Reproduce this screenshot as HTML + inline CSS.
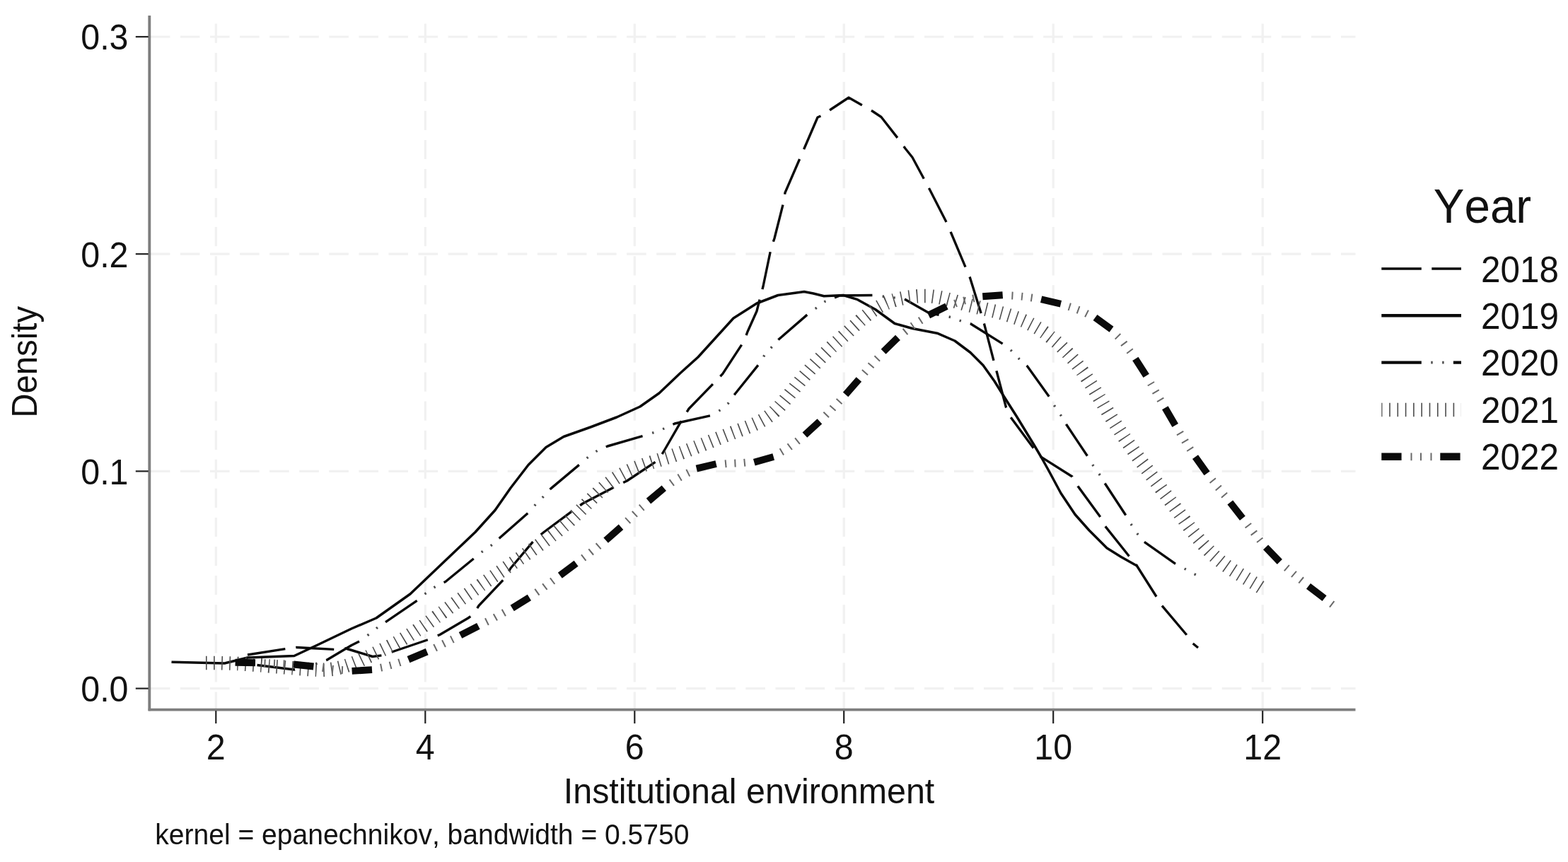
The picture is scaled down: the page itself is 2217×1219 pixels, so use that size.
<!DOCTYPE html>
<html lang="en">
<head>
<meta charset="utf-8">
<title>Kernel density of institutional environment by year</title>
<style>
html,body{margin:0;padding:0;background:#fff;}
body{width:2217px;height:1219px;overflow:hidden;}
svg{display:block;}
text{font-family:"Liberation Sans",Arial,Helvetica,sans-serif;fill:#111;font-kerning:none;}
.g{stroke:#f1f1f1;stroke-width:3.2;stroke-dasharray:27.6 14.48;fill:none;}
.c{fill:none;stroke:#0a0a0a;stroke-linejoin:round;}
</style>
</head>
<body>
<svg width="2217" height="1219" viewBox="0 0 2217 1219">
<rect x="0" y="0" width="2217" height="1219" fill="#fff"/>
<g>
<g class="g">
<line x1="212.8" y1="973.6" x2="1916.5" y2="973.6"/>
<line x1="212.8" y1="666.4" x2="1916.5" y2="666.4"/>
<line x1="212.8" y1="359.2" x2="1916.5" y2="359.2"/>
<line x1="212.8" y1="52.0" x2="1916.5" y2="52.0"/>
<line x1="305.3" y1="1003.6" x2="305.3" y2="22.0" stroke-dasharray="27.2 13.88" stroke-dashoffset="2"/>
<line x1="601.3" y1="1003.6" x2="601.3" y2="22.0" stroke-dasharray="27.2 13.88" stroke-dashoffset="2"/>
<line x1="897.3" y1="1003.6" x2="897.3" y2="22.0" stroke-dasharray="27.2 13.88" stroke-dashoffset="2"/>
<line x1="1193.2" y1="1003.6" x2="1193.2" y2="22.0" stroke-dasharray="27.2 13.88" stroke-dashoffset="2"/>
<line x1="1489.2" y1="1003.6" x2="1489.2" y2="22.0" stroke-dasharray="27.2 13.88" stroke-dashoffset="2"/>
<line x1="1785.2" y1="1003.6" x2="1785.2" y2="22.0" stroke-dasharray="27.2 13.88" stroke-dashoffset="2"/>
</g>
<g class="c">
<polyline points="350.0,926.0 404.0,917.5 419.0,915.5 474.0,918.5 489.0,917.0 526.8,928.5 542.0,926.5 557.0,921.0 607.0,904.0 622.0,897.5 662.0,874.0 669.0,869.0 677.0,856.5 714.0,817.5 722.0,803.5 756.5,762.5 769.0,752.5 812.0,720.5 824.0,712.0 872.0,687.0 886.5,680.0 931.5,650.0 939.5,636.5 965.0,592.5 974.0,578.0 1012.0,539.0 1021.8,528.6 1051.9,482.5 1057.0,469.0 1070.0,440.0 1075.0,420.0 1079.0,405.0 1090.0,352.0 1095.0,337.0 1107.5,287.5 1110.0,272.5 1131.0,224.0 1137.5,209.0 1156.0,166.0 1162.5,163.0 1175.0,154.5 1200.0,138.0 1221.0,150.0 1234.0,157.5 1246.0,165.5 1271.0,197.5 1280.0,210.0 1290.0,222.5 1307.5,255.0 1315.0,269.0 1339.0,316.0 1345.0,330.0 1366.0,380.0 1371.4,392.5 1387.3,443.6 1391.5,457.8 1404.9,509.7 1409.0,524.7 1422.4,575.8 1429.0,590.0 1460.0,632.0 1470.0,645.0 1516.0,674.0 1524.0,687.5 1555.0,730.0 1562.5,744.0 1596.0,786.0 1606.7,799.0 1635.2,844.0 1642.5,856.0 1677.5,897.5 1686.0,909.5 1694.0,916.0" stroke-width="3.4" stroke-dasharray="54 15.1" stroke-dashoffset="0"/>
<polyline points="242.5,936.2 317.5,938.0 350.0,930.0 416.0,927.5 449.0,912.0 497.0,889.0 532.0,874.0 580.0,840.0 622.0,800.0 672.0,752.5 700.0,721.5 722.0,690.0 747.0,657.5 772.0,632.5 797.0,617.5 835.0,604.0 872.0,590.0 905.0,575.0 932.0,556.0 962.0,527.5 987.0,505.0 1012.0,477.5 1037.0,450.0 1070.0,429.0 1100.0,417.5 1137.0,412.5 1150.0,415.0 1165.0,418.7 1192.5,417.5 1212.5,423.7 1237.5,437.5 1265.0,457.5 1290.0,464.5 1325.0,471.2 1350.0,482.0 1372.0,498.5 1390.0,516.5 1406.0,539.0 1420.0,561.5 1437.5,589.0 1462.5,630.0 1472.5,647.0 1482.5,665.0 1500.0,697.5 1520.0,727.5 1540.0,750.0 1565.0,775.0 1585.0,787.5 1605.0,798.7 1607.5,800.0" stroke-width="3.5"/>
<polyline points="363.5,940.5 416.0,947.0 440.0,941.0 461.8,933.5 497.0,912.5 510.0,906.0 522.0,896.8 533.5,887.6 546.0,879.2 591.0,848.4 602.0,839.0 615.0,830.0 630.0,822.5 671.0,789.0 682.0,780.0 695.0,771.0 706.7,760.5 747.7,724.5 757.7,712.8 767.8,702.8 778.6,691.1 820.5,656.0 832.0,646.0 845.0,637.0 859.0,631.0 911.0,616.0 926.0,611.0 939.0,606.0 954.0,599.0 1006.0,587.5 1019.0,579.5 1030.0,570.0 1039.3,557.0 1073.6,514.3 1081.0,502.0 1091.0,491.0 1101.0,480.0 1142.5,444.0 1155.0,435.0 1167.0,426.0 1187.5,418.0 1235.0,417.5 1278.5,422.7 1313.7,442.7 1344.6,448.6 1358.0,453.6 1372.2,457.8 1419.1,487.1 1430.0,496.0 1441.0,507.5 1452.6,518.0 1484.4,562.4 1491.0,574.0 1500.0,587.5 1507.5,600.0 1537.5,645.0 1545.0,657.5 1554.0,670.0 1562.5,684.0 1591.0,727.5 1599.0,741.0 1607.5,754.0 1616.8,765.5 1662.0,797.3 1674.5,804.0 1687.9,811.5 1692.0,813.5" stroke-width="3.4" stroke-dasharray="54 46" stroke-dashoffset="0"/>
<polyline points="363.5,940.5 416.0,947.0 440.0,941.0 461.8,933.5 497.0,912.5 510.0,906.0 522.0,896.8 533.5,887.6 546.0,879.2 591.0,848.4 602.0,839.0 615.0,830.0 630.0,822.5 671.0,789.0 682.0,780.0 695.0,771.0 706.7,760.5 747.7,724.5 757.7,712.8 767.8,702.8 778.6,691.1 820.5,656.0 832.0,646.0 845.0,637.0 859.0,631.0 911.0,616.0 926.0,611.0 939.0,606.0 954.0,599.0 1006.0,587.5 1019.0,579.5 1030.0,570.0 1039.3,557.0 1073.6,514.3 1081.0,502.0 1091.0,491.0 1101.0,480.0 1142.5,444.0 1155.0,435.0 1167.0,426.0 1187.5,418.0 1235.0,417.5 1278.5,422.7 1313.7,442.7 1344.6,448.6 1358.0,453.6 1372.2,457.8 1419.1,487.1 1430.0,496.0 1441.0,507.5 1452.6,518.0 1484.4,562.4 1491.0,574.0 1500.0,587.5 1507.5,600.0 1537.5,645.0 1545.0,657.5 1554.0,670.0 1562.5,684.0 1591.0,727.5 1599.0,741.0 1607.5,754.0 1616.8,765.5 1662.0,797.3 1674.5,804.0 1687.9,811.5 1692.0,813.5" stroke-width="3.4" stroke-dasharray="0 68.3 2.4 13.5 2.4 13.4" stroke-dashoffset="0" stroke="#4a4a4a"/>
<polyline points="291.0,937.6 294.0,937.6 297.0,937.5 300.0,937.5 303.0,937.5 306.0,937.5 309.0,937.6 312.0,937.6 315.0,937.7 318.0,937.8 321.0,937.9 324.0,938.0 327.0,938.1 330.0,938.2 333.0,938.4 336.0,938.5 339.0,938.7 342.0,938.9 345.0,939.1 347.9,939.3 350.9,939.5 353.9,939.7 356.9,939.9 359.9,940.1 362.9,940.4 365.9,940.6 368.9,940.8 371.9,941.1 374.9,941.3 377.9,941.6 380.9,941.9 383.9,942.1 386.9,942.4 389.9,942.7 392.9,942.9 395.9,943.2 398.8,943.4 401.8,943.7 404.8,944.0 407.8,944.2 410.8,944.5 413.8,944.7 416.8,945.0 419.8,945.2 422.8,945.5 425.8,945.7 428.7,946.0 431.7,946.2 434.7,946.4 437.7,946.6 440.7,946.8 443.7,947.0 446.7,947.1 449.6,947.3 452.6,947.3 455.6,947.3 458.5,947.2 461.5,947.1 464.4,946.9 467.4,946.6 470.3,946.2 473.2,945.7 476.1,945.2 479.0,944.5 481.9,943.8 484.7,943.0 487.6,942.2 490.4,941.3 493.3,940.3 496.1,939.3 498.9,938.2 501.7,937.1 504.4,935.9 507.2,934.7 510.0,933.5 512.7,932.2 515.5,931.0 518.2,929.7 521.0,928.4 523.7,927.1 526.4,925.8 529.2,924.5 531.9,923.2 534.6,921.9 537.3,920.6 540.0,919.3 542.7,918.0 545.4,916.7 548.1,915.4 550.7,914.0 553.4,912.7 556.0,911.3 558.7,909.9 561.3,908.5 563.9,907.0 566.5,905.6 569.1,904.1 571.6,902.6 574.2,901.0 576.8,899.5 579.3,897.9 581.8,896.3 584.3,894.7 586.8,893.1 589.3,891.4 591.8,889.8 594.3,888.1 596.8,886.4 599.3,884.7 601.7,883.0 604.2,881.3 606.6,879.6 609.1,877.8 611.5,876.1 614.0,874.4 616.4,872.6 618.9,870.9 621.3,869.1 623.7,867.3 626.2,865.6 628.6,863.8 631.0,862.0 633.5,860.3 635.9,858.5 638.4,856.7 640.8,855.0 643.3,853.2 645.7,851.5 648.1,849.7 650.6,848.0 653.1,846.2 655.5,844.5 658.0,842.8 660.4,841.0 662.9,839.3 665.3,837.6 667.8,835.8 670.3,834.1 672.7,832.4 675.2,830.7 677.7,829.0 680.1,827.2 682.6,825.5 685.1,823.8 687.5,822.1 690.0,820.4 692.5,818.7 694.9,817.0 697.4,815.3 699.9,813.6 702.4,811.9 704.8,810.2 707.3,808.5 709.8,806.8 712.3,805.1 714.7,803.4 717.2,801.7 719.7,800.0 722.2,798.3 724.6,796.6 727.1,794.9 729.6,793.3 732.0,791.6 734.5,789.9 737.0,788.2 739.4,786.5 741.9,784.8 744.4,783.1 746.8,781.4 749.3,779.7 751.8,778.0 754.2,776.3 756.6,774.6 759.1,772.9 761.5,771.2 764.0,769.4 766.4,767.7 768.8,766.0 771.2,764.2 773.6,762.4 776.0,760.6 778.4,758.8 780.7,757.0 783.1,755.2 785.4,753.3 787.8,751.5 790.1,749.6 792.4,747.7 794.7,745.8 797.0,743.8 799.3,741.9 801.5,739.9 803.8,737.9 806.0,735.9 808.2,733.8 810.4,731.7 812.6,729.6 814.8,727.5 816.9,725.4 819.1,723.2 821.2,721.1 823.4,718.9 825.5,716.7 827.6,714.6 829.7,712.4 831.9,710.2 834.0,708.0 836.1,705.9 838.3,703.7 840.4,701.6 842.6,699.5 844.7,697.4 846.9,695.3 849.1,693.3 851.4,691.3 853.6,689.3 855.8,687.4 858.1,685.5 860.4,683.6 862.8,681.8 865.1,680.0 867.5,678.3 869.9,676.6 872.4,675.0 874.9,673.4 877.4,671.9 880.0,670.5 882.6,669.1 885.2,667.8 887.9,666.5 890.5,665.3 893.2,664.1 896.0,662.9 898.7,661.8 901.5,660.7 904.3,659.6 907.1,658.6 910.0,657.6 912.8,656.6 915.6,655.7 918.5,654.8 921.4,653.8 924.3,652.9 927.1,652.0 930.0,651.1 932.9,650.2 935.8,649.3 938.7,648.4 941.6,647.5 944.5,646.6 947.3,645.7 950.2,644.8 953.1,643.8 955.9,642.8 958.7,641.9 961.6,640.9 964.4,639.9 967.2,638.8 970.0,637.8 972.8,636.8 975.6,635.7 978.4,634.7 981.2,633.6 984.0,632.5 986.7,631.4 989.5,630.3 992.3,629.3 995.1,628.2 997.8,627.1 1000.6,625.9 1003.4,624.8 1006.1,623.7 1008.9,622.6 1011.7,621.5 1014.4,620.4 1017.2,619.3 1020.0,618.2 1022.8,617.1 1025.6,616.0 1028.4,614.9 1031.2,613.8 1034.0,612.7 1036.8,611.6 1039.6,610.6 1042.4,609.5 1045.2,608.5 1048.1,607.4 1050.9,606.3 1053.7,605.3 1056.5,604.2 1059.3,603.1 1062.1,601.9 1064.8,600.7 1067.5,599.5 1070.2,598.3 1072.9,597.0 1075.5,595.6 1078.1,594.2 1080.6,592.7 1083.1,591.1 1085.5,589.5 1087.9,587.8 1090.2,586.0 1092.5,584.1 1094.7,582.2 1096.8,580.1 1098.9,578.0 1101.0,575.9 1103.0,573.7 1105.0,571.4 1107.0,569.1 1108.9,566.8 1110.8,564.5 1112.7,562.1 1114.6,559.7 1116.5,557.3 1118.4,555.0 1120.3,552.6 1122.2,550.2 1124.1,547.8 1125.9,545.5 1127.8,543.1 1129.8,540.8 1131.7,538.5 1133.6,536.2 1135.5,533.9 1137.4,531.6 1139.4,529.3 1141.3,527.0 1143.3,524.8 1145.3,522.5 1147.2,520.3 1149.2,518.0 1151.2,515.8 1153.2,513.6 1155.3,511.4 1157.3,509.3 1159.3,507.1 1161.4,504.9 1163.5,502.8 1165.5,500.7 1167.6,498.6 1169.8,496.4 1171.9,494.4 1174.0,492.3 1176.2,490.2 1178.4,488.2 1180.6,486.1 1182.8,484.1 1185.0,482.1 1187.2,480.1 1189.5,478.1 1191.7,476.0 1193.9,474.0 1196.2,471.9 1198.4,469.9 1200.6,467.8 1202.8,465.7 1205.1,463.6 1207.3,461.5 1209.5,459.5 1211.8,457.4 1214.1,455.4 1216.3,453.3 1218.6,451.3 1220.9,449.4 1223.2,447.5 1225.6,445.6 1227.9,443.7 1230.3,441.9 1232.7,440.2 1235.2,438.5 1237.6,436.9 1240.1,435.3 1242.7,433.8 1245.2,432.4 1247.8,431.1 1250.5,429.8 1253.1,428.6 1255.8,427.5 1258.6,426.5 1261.4,425.5 1264.2,424.7 1267.0,423.8 1269.9,423.1 1272.8,422.4 1275.7,421.8 1278.7,421.2 1281.7,420.7 1284.7,420.2 1287.7,419.8 1290.7,419.4 1293.7,419.2 1296.8,418.9 1299.8,418.7 1302.9,418.6 1305.9,418.6 1308.9,418.6 1311.9,418.7 1315.0,418.9 1318.0,419.1 1320.9,419.5 1323.9,419.8 1326.8,420.3 1329.8,420.9 1332.7,421.5 1335.5,422.1 1338.4,422.8 1341.3,423.6 1344.1,424.3 1347.0,425.1 1349.8,425.9 1352.7,426.8 1355.5,427.6 1358.4,428.4 1361.2,429.2 1364.1,430.1 1366.9,430.8 1369.8,431.6 1372.7,432.3 1375.5,433.0 1378.4,433.7 1381.3,434.4 1384.2,435.1 1387.1,435.8 1390.0,436.4 1392.9,437.1 1395.8,437.8 1398.7,438.4 1401.6,439.1 1404.5,439.8 1407.4,440.5 1410.3,441.3 1413.2,442.0 1416.1,442.8 1419.0,443.6 1421.9,444.5 1424.8,445.3 1427.6,446.2 1430.5,447.2 1433.3,448.1 1436.1,449.2 1439.0,450.2 1441.8,451.3 1444.5,452.4 1447.3,453.6 1450.0,454.8 1452.7,456.1 1455.4,457.4 1458.1,458.8 1460.7,460.2 1463.3,461.6 1465.9,463.1 1468.5,464.6 1471.0,466.2 1473.5,467.9 1475.9,469.5 1478.4,471.3 1480.8,473.0 1483.2,474.8 1485.5,476.7 1487.9,478.5 1490.1,480.5 1492.4,482.4 1494.7,484.4 1496.9,486.4 1499.1,488.5 1501.2,490.5 1503.3,492.7 1505.4,494.8 1507.5,497.0 1509.6,499.2 1511.6,501.4 1513.6,503.7 1515.5,505.9 1517.5,508.2 1519.4,510.6 1521.3,512.9 1523.1,515.3 1524.9,517.7 1526.7,520.1 1528.5,522.5 1530.3,524.9 1532.0,527.4 1533.7,529.8 1535.4,532.3 1537.0,534.8 1538.7,537.3 1540.3,539.8 1541.9,542.4 1543.5,544.9 1545.1,547.4 1546.7,550.0 1548.2,552.5 1549.8,555.1 1551.3,557.7 1552.9,560.2 1554.4,562.8 1556.0,565.4 1557.5,567.9 1559.1,570.5 1560.6,573.1 1562.1,575.7 1563.7,578.2 1565.3,580.8 1566.8,583.3 1568.4,585.9 1570.0,588.4 1571.6,591.0 1573.2,593.5 1574.8,596.0 1576.4,598.5 1578.0,601.0 1579.7,603.5 1581.3,606.0 1583.0,608.5 1584.6,611.0 1586.3,613.5 1588.0,616.0 1589.6,618.5 1591.3,621.0 1593.0,623.4 1594.7,625.9 1596.4,628.4 1598.1,630.8 1599.9,633.3 1601.6,635.7 1603.3,638.2 1605.0,640.6 1606.8,643.1 1608.5,645.5 1610.2,647.9 1612.0,650.4 1613.7,652.8 1615.5,655.2 1617.3,657.6 1619.0,660.1 1620.8,662.5 1622.6,664.9 1624.3,667.3 1626.1,669.7 1627.9,672.2 1629.7,674.6 1631.4,677.0 1633.2,679.4 1635.0,681.8 1636.8,684.2 1638.6,686.6 1640.4,689.0 1642.1,691.5 1643.9,693.9 1645.7,696.3 1647.5,698.7 1649.3,701.1 1651.1,703.5 1652.9,705.9 1654.6,708.3 1656.4,710.7 1658.2,713.2 1660.0,715.6 1661.8,718.0 1663.5,720.4 1665.3,722.8 1667.1,725.2 1668.9,727.7 1670.6,730.1 1672.4,732.5 1674.2,734.9 1675.9,737.4 1677.7,739.8 1679.5,742.2 1681.2,744.6 1683.0,747.0 1684.8,749.4 1686.6,751.8 1688.5,754.2 1690.3,756.5 1692.1,758.9 1694.0,761.2 1695.9,763.5 1697.8,765.8 1699.7,768.1 1701.6,770.3 1703.6,772.5 1705.6,774.7 1707.6,776.9 1709.7,779.1 1711.8,781.2 1713.9,783.3 1716.0,785.3 1718.2,787.3 1720.4,789.3 1722.7,791.3 1725.0,793.2 1727.3,795.1 1729.7,796.9 1732.1,798.7 1734.6,800.5 1737.0,802.2 1739.5,803.9 1742.1,805.6 1744.6,807.2 1747.2,808.8 1749.8,810.4 1752.4,812.0 1755.0,813.6 1757.6,815.2 1760.2,816.7 1762.8,818.3 1765.4,819.9 1767.9,821.4 1770.5,823.0 1773.0,824.5 1775.6,826.1 1778.1,827.7 1780.5,829.3 1783.0,830.9 1785.3,832.5 1785.4,832.5" stroke-width="19.5" stroke-dasharray="1.6 9.5" stroke="#4c4c4c"/>
<path d="M332.6,936.7 L361.0,937.3 M415.0,939.5 L443.4,942.5 M497.6,948.9 L526.0,947.1 M577.5,932.6 L603.7,921.6 M651.0,898.3 L676.4,885.3 M724.2,860.0 L748.4,845.0 M791.8,813.7 L814.6,796.7 M856.6,764.1 L878.0,745.3 M917.0,708.6 L938.8,690.2 M984.8,662.6 L1012.6,656.0 M1066.3,653.8 L1093.7,646.0 M1137.9,615.2 L1158.9,595.8 M1195.6,558.0 L1214.4,536.6 M1249.1,497.2 L1269.5,477.4 M1312.9,445.7 L1338.5,433.1 M1389.3,419.2 L1417.7,417.2 M1472.1,423.2 L1499.9,429.8 M1548.5,448.9 L1571.5,465.7 M1605.3,507.4 L1620.7,531.4 M1647.3,576.8 L1661.7,601.4 M1690.0,646.1 L1706.6,669.3 M1739.3,710.5 L1756.9,732.9 M1789.6,773.9 L1809.4,794.5 M1850.0,828.8 L1872.6,846.2" stroke-width="9.9"/>
<path d="M373.5,937.6 L375.5,937.7 M387.0,938.0 L389.0,938.1 M400.5,938.7 L402.5,938.8 M455.9,944.4 L457.8,944.7 M469.4,946.1 L471.4,946.3 M482.9,947.5 L484.9,947.6 M538.1,944.3 L540.1,943.9 M551.1,941.1 L553.0,940.6 M563.9,937.2 L565.8,936.6 M614.7,916.3 L616.5,915.4 M626.6,910.6 L628.4,909.7 M638.4,904.7 L640.2,903.8 M687.5,879.6 L689.3,878.7 M699.5,873.4 L701.3,872.4 M711.4,867.0 L713.2,866.0 M758.5,837.9 L760.2,836.7 M769.5,830.2 L771.1,829.0 M780.3,822.3 L781.9,821.1 M824.4,789.2 L826.0,788.0 M834.9,781.2 L836.5,779.9 M845.4,773.0 L846.9,771.7 M887.0,736.7 L888.4,735.4 M896.7,727.6 L898.2,726.2 M906.5,718.4 L908.0,717.1 M949.0,683.1 L950.6,681.9 M960.2,675.7 L961.9,674.7 M971.9,669.2 L973.7,668.3 M1025.1,655.8 L1027.1,655.6 M1038.4,655.1 L1040.4,655.0 M1051.8,654.3 L1053.8,654.1 M1104.5,639.4 L1106.2,638.4 M1115.9,632.3 L1117.5,631.1 M1126.7,624.3 L1128.3,623.0 M1167.5,587.2 L1168.9,585.8 M1176.8,577.9 L1178.1,576.4 M1185.9,568.3 L1187.2,566.9 M1222.3,527.4 L1223.6,525.9 M1230.9,517.5 L1232.2,516.0 M1239.6,507.7 L1241.0,506.3 M1279.2,469.6 L1280.8,468.3 M1289.8,461.3 L1291.4,460.2 M1300.8,453.7 L1302.5,452.6 M1350.1,429.3 L1352.0,428.6 M1362.6,425.3 L1364.6,424.8 M1375.4,422.2 L1377.4,421.8 M1430.4,418.0 L1432.4,418.1 M1444.1,419.1 L1446.0,419.3 M1457.6,420.9 L1459.6,421.2 M1511.3,433.5 L1513.2,434.1 M1523.6,437.9 L1525.5,438.6 M1535.6,443.0 L1537.4,443.9 M1579.8,475.1 L1581.2,476.5 M1588.7,485.1 L1589.9,486.7 M1596.9,495.7 L1598.1,497.3 M1626.9,541.9 L1627.9,543.6 M1633.6,553.2 L1634.6,554.9 M1640.2,564.6 L1641.2,566.3 M1668.1,611.8 L1669.1,613.5 M1675.1,623.1 L1676.1,624.8 M1682.2,634.2 L1683.3,635.9 M1714.1,678.8 L1715.4,680.4 M1722.2,689.2 L1723.5,690.7 M1730.4,699.5 L1731.7,701.0 M1764.3,742.5 L1765.5,744.1 M1772.4,752.8 L1773.6,754.4 M1780.7,763.0 L1781.9,764.5 M1818.6,802.6 L1820.1,803.9 M1828.7,811.3 L1830.2,812.6 M1838.9,819.8 L1840.5,821.1 M1882.4,853.8 L1884.0,855.0" stroke-width="10.8" stroke="#6a6a6a"/>
</g>
<g stroke="#7e7e7e" stroke-width="3.9" fill="none"><line x1="211.3" y1="22" x2="211.3" y2="1005.2"/><line x1="209.70000000000002" y1="1003.6" x2="1916.5" y2="1003.6"/></g>
<g stroke="#222" stroke-width="2.2">
<line x1="191.8" y1="973.6" x2="209.8" y2="973.6"/>
<line x1="191.8" y1="666.4" x2="209.8" y2="666.4"/>
<line x1="191.8" y1="359.2" x2="209.8" y2="359.2"/>
<line x1="191.8" y1="52.0" x2="209.8" y2="52.0"/>
<line x1="305.3" y1="1005.1" x2="305.3" y2="1023.1"/>
<line x1="601.3" y1="1005.1" x2="601.3" y2="1023.1"/>
<line x1="897.3" y1="1005.1" x2="897.3" y2="1023.1"/>
<line x1="1193.2" y1="1005.1" x2="1193.2" y2="1023.1"/>
<line x1="1489.2" y1="1005.1" x2="1489.2" y2="1023.1"/>
<line x1="1785.2" y1="1005.1" x2="1785.2" y2="1023.1"/>
</g>
<text transform="translate(181.5,991.9) scale(1,1.05)" font-size="48.4" text-anchor="end">0.0</text>
<text transform="translate(181.5,684.7) scale(1,1.05)" font-size="48.4" text-anchor="end">0.1</text>
<text transform="translate(181.5,377.5) scale(1,1.05)" font-size="48.4" text-anchor="end">0.2</text>
<text transform="translate(181.5,70.3) scale(1,1.05)" font-size="48.4" text-anchor="end">0.3</text>
<text transform="translate(305.3,1074.3) scale(1,1.05)" font-size="48.4" text-anchor="middle">2</text>
<text transform="translate(601.3,1074.3) scale(1,1.05)" font-size="48.4" text-anchor="middle">4</text>
<text transform="translate(897.3,1074.3) scale(1,1.05)" font-size="48.4" text-anchor="middle">6</text>
<text transform="translate(1193.2,1074.3) scale(1,1.05)" font-size="48.4" text-anchor="middle">8</text>
<text transform="translate(1489.2,1074.3) scale(1,1.05)" font-size="48.4" text-anchor="middle">10</text>
<text transform="translate(1785.2,1074.3) scale(1,1.05)" font-size="48.4" text-anchor="middle">12</text>
<text transform="translate(1059.0,1136.3) scale(1,1.05)" font-size="48.4" text-anchor="middle">Institutional environment</text>
<text transform="translate(51.5,511.8) rotate(-90) scale(1,1.07)" font-size="47.4" text-anchor="middle">Density</text>
<text transform="translate(219.3,1193.8) scale(1,1.05)" font-size="39.05" text-anchor="start">kernel = epanechnikov, bandwidth = 0.5750</text>
<text transform="translate(2096.0,315.0) scale(1,1.05)" font-size="65.5" text-anchor="middle">Year</text>
<g class="c">
<line x1="1953.3" y1="380" x2="2066" y2="380" stroke-width="3.7" stroke-dasharray="56.5 14.5"/>
<line x1="1953.3" y1="446.3" x2="2066" y2="446.3" stroke-width="4.4"/>
<line x1="1953.3" y1="512.6" x2="2066" y2="512.6" stroke-width="4.1" stroke-dasharray="56.5 45.1"/>
<line x1="1953.3" y1="512.6" x2="2066" y2="512.6" stroke-width="3.8" stroke-dasharray="0 70 2.4 13.5 2.4 13.3" stroke="#4a4a4a"/>
<line x1="1953.3" y1="579.5" x2="2066" y2="579.5" stroke-width="19.5" stroke-dasharray="1.6 9.7" stroke="#4c4c4c" stroke-dashoffset="0.4"/>
<line x1="1953.3" y1="645.8" x2="2066" y2="645.8" stroke-width="10.6" stroke-dasharray="28.3 54.7"/>
<line x1="1953.3" y1="645.8" x2="2066" y2="645.8" stroke-width="10.8" stroke-dasharray="0 41.2 2 11.5 2 12.5 2 11.8" stroke="#6a6a6a"/>
</g>
<text transform="translate(2094.0,398.6) scale(1,1.05)" font-size="49.4" text-anchor="start">2018</text>
<text transform="translate(2094.0,464.9) scale(1,1.05)" font-size="49.4" text-anchor="start">2019</text>
<text transform="translate(2094.0,531.2) scale(1,1.05)" font-size="49.4" text-anchor="start">2020</text>
<text transform="translate(2094.0,598.1) scale(1,1.05)" font-size="49.4" text-anchor="start">2021</text>
<text transform="translate(2094.0,664.4) scale(1,1.05)" font-size="49.4" text-anchor="start">2022</text>
</g>
</svg>
</body>
</html>
